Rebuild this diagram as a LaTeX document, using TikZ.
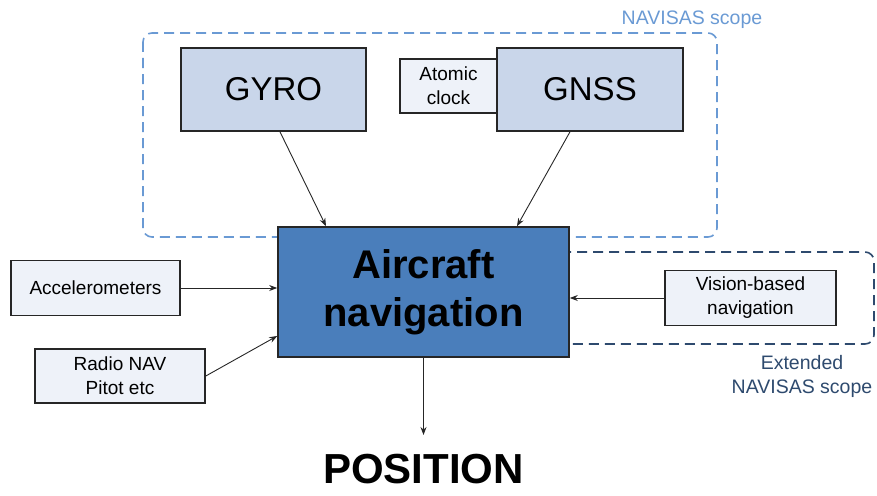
\documentclass[tikz,border=0pt]{standalone}
\usepackage{fontspec}
\setmainfont{Liberation Sans}
\usetikzlibrary{arrows.meta}
\definecolor{boxblue}{HTML}{C9D6EA}
\definecolor{paleblue}{HTML}{EEF2F9}
\definecolor{navblue}{HTML}{4A7EBB}
\definecolor{scopelight}{HTML}{6A9AD4}
\definecolor{scopedark}{HTML}{2E4A6E}
\tikzset{
  bigbox/.style={draw=black!85, line width=1.6pt, fill=boxblue, minimum width=185pt, minimum height=83pt, inner sep=0pt, font=\fontsize{33}{38}\selectfont},
  smallbox/.style={draw=black!85, line width=1.6pt, fill=paleblue, inner sep=0pt, align=center, font=\fontsize{19}{24}\selectfont},
  navbox/.style={draw=black!85, line width=1.6pt, fill=navblue, minimum width=291pt, minimum height=130pt, inner sep=0pt, align=center, font=\bfseries\fontsize{40}{48}\selectfont},
  arr/.style={draw=black!85, line width=0.9pt, -{Stealth[length=8pt,width=6pt]}},
  scopebox/.style={line width=1.6pt, dash pattern=on 10pt off 6pt, rounded corners=9pt},
  scopelabel/.style={font=\fontsize{19.5}{24}\selectfont, align=center, inner sep=0pt}
}
\begin{document}
\begin{tikzpicture}[x=1pt,y=-1pt]
\useasboundingbox (0,0) rectangle (877,495);
% scope boxes
\draw[scopebox, draw=scopelight] (143,33) rectangle (717,237);
\draw[scopebox, draw=scopedark] (540,252) rectangle (874,344);
\node[scopelabel, text=scopelight] (lblscope) at (692,20) {NAVISAS scope};
\node[scopelabel, text=scopedark] (lblext) at (802,376) {Extended\\NAVISAS scope};
% sensor boxes
\node[bigbox] (gyro) at (273.5,89.5) {GYRO};
\node[smallbox, minimum width=97pt, minimum height=54pt] (clock) at (448.5,86) {Atomic\\clock};
\node[bigbox, minimum width=186pt] (gnss) at (590,89.5) {GNSS};
\node[navbox] (nav) at (423.5,292) {Aircraft\\navigation};
\node[smallbox, minimum width=169pt, minimum height=55pt] (acc) at (95.5,288) {Accelerometers};
\node[smallbox, minimum width=170pt, minimum height=54pt] (radio) at (120,376) {Radio NAV\\Pitot etc};
\node[smallbox, minimum width=171pt, minimum height=55pt] (vision) at (750.5,298) {Vision-based\\navigation};
\node[font=\bfseries\fontsize{42}{50}\selectfont, inner sep=0pt] (pos) at (423.5,469) {POSITION};
\coordinate (posarrow) at (423.5,435);
% connectors
\draw[arr] ([xshift=6.5pt]gyro.south) -- ([xshift=-97.5pt]nav.north);
\draw[arr] ([xshift=-20pt]gnss.south) -- ([xshift=93.5pt]nav.north);
\draw[arr] (acc.east) -- (acc.east -| nav.west);
\draw[arr] (radio.east) -- ([yshift=-44pt]nav.west);
\draw[arr] (vision.west) -- (vision.west -| nav.east);
\draw[arr] (nav.south) -- (posarrow);
\end{tikzpicture}
\end{document}
